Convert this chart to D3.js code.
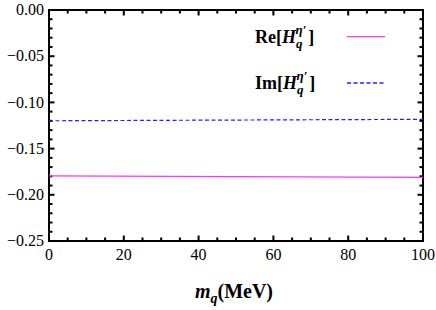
<!DOCTYPE html>
<html>
<head>
<meta charset="utf-8">
<script src="https://cdn.jsdelivr.net/npm/d3@7"></script>
<style>
  body { margin: 0; background: #fff; }
  text { font-family: "Liberation Serif", "Times New Roman", serif; }
</style>
</head>
<body>
<svg id="chart" width="436" height="310"></svg>
<script>
// data
var mq = [0, 100];
var reH = [-0.1795, -0.1812];
var imH = [-0.1199, -0.1183];
var xTicks = [0, 20, 40, 60, 80, 100];
var yTicks = [0, -0.05, -0.10, -0.15, -0.20, -0.25];

var margin = { top: 10, right: 13, bottom: 69, left: 49 },
    width = 436 - margin.left - margin.right,
    height = 310 - margin.top - margin.bottom;

var svg = d3.select('#chart')
  .append('g')
    .attr('transform', 'translate(' + margin.left + ',' + margin.top + ')');

var x = d3.scaleLinear().domain([0, 100]).range([0, width]);
var y = d3.scaleLinear().domain([-0.25, 0]).range([height, 0]);

var fmtY = function(d){ return d3.format('.2f')(d).replace('-', '\u2212'); };

// minor ticks every 5 on x and 0.01 on y
var xMinor = d3.range(0, 101, 5).filter(function(d){ return d % 20 !== 0; });
var yMinor = d3.range(0, 26).filter(function(i){ return i % 5 !== 0; }).map(function(i){ return -i / 100; });

// frame
svg.append('rect').attr('width', width).attr('height', height)
  .attr('fill', 'none').attr('stroke', '#000').attr('stroke-width', 2);

// inward frame ticks on all four sides
function yTickMarks(vals, len){
  [0, width - len].forEach(function(x0){
    svg.append('g').selectAll('rect').data(vals).enter().append('rect')
      .attr('x', x0).attr('y', function(d){ return y(d) - 1; })
      .attr('width', len).attr('height', 2).attr('fill', '#000');
  });
}
function xTickMarks(vals, len){
  [0, height - len].forEach(function(y0){
    svg.append('g').selectAll('rect').data(vals).enter().append('rect')
      .attr('y', y0).attr('x', function(d){ return x(d) - 1; })
      .attr('height', len).attr('width', 2).attr('fill', '#000');
  });
}
yTickMarks(yTicks, 5.5); yTickMarks(yMinor, 3.5);
xTickMarks(xTicks, 5.5); xTickMarks(xMinor, 3.5);

// tick labels
svg.selectAll('.ylab').data(yTicks).enter().append('text')
  .attr('x', -5).attr('y', function(d){ return y(d); }).attr('dy', '0.33em')
  .attr('text-anchor', 'end').attr('font-size', 16).text(fmtY);
svg.selectAll('.xlab').data(xTicks).enter().append('text')
  .attr('x', function(d){ return x(d); }).attr('y', height + 19)
  .attr('text-anchor', 'middle').attr('font-size', 16).text(function(d){ return d; });

var line = d3.line().x(function(d){ return x(d[0]); }).y(function(d){ return y(d[1]); });

svg.append('path').datum(d3.zip(mq, reH)).attr('d', line)
  .attr('fill', 'none').attr('stroke', '#ff33ff').attr('stroke-width', 1.2);
svg.append('path').datum(d3.zip(mq, imH)).attr('d', line)
  .attr('fill', 'none').attr('stroke', '#2222ff').attr('stroke-width', 1.2)
  .attr('stroke-dasharray', '4,2.5');

// legend
var legend = [
  { name: 'Re', color: '#ff33ff', dash: null, yy: 26.7 },
  { name: 'Im', color: '#2222ff', dash: '4,2.5', yy: 73 }
];
legend.forEach(function(l){
  var t = svg.append('text').attr('x', 206).attr('y', l.yy + 6)
    .attr('font-size', 18).attr('font-weight', 'bold').attr('fill', '#000');
  t.append('tspan').text(l.name + '[');
  t.append('tspan').attr('font-style', 'italic').text('H');
  t.append('tspan').attr('font-style', 'italic').attr('font-size', 13).attr('dy', 5).attr('dx', 0).text('q');
  t.append('tspan').attr('font-style', 'italic').attr('font-size', 13).attr('dy', -14).attr('dx', -7).text('\u03B7\u2032');
  t.append('tspan').attr('dy', 9).attr('dx', 2).text(']');
  svg.append('line').attr('x1', 298).attr('x2', 336).attr('y1', l.yy).attr('y2', l.yy)
    .attr('stroke', l.color).attr('stroke-width', 1.3).attr('stroke-dasharray', l.dash);
});

// axis title
var xt = svg.append('text').attr('x', width / 2 - 2).attr('y', height + 57)
  .attr('text-anchor', 'middle').attr('font-size', 20).attr('font-weight', 'bold').attr('fill', '#000');
xt.append('tspan').attr('font-style', 'italic').text('m');
xt.append('tspan').attr('font-style', 'italic').attr('font-size', 14).attr('dy', 5).text('q');
xt.append('tspan').attr('dy', -5).text('(MeV)');
</script>
</body>
</html>
